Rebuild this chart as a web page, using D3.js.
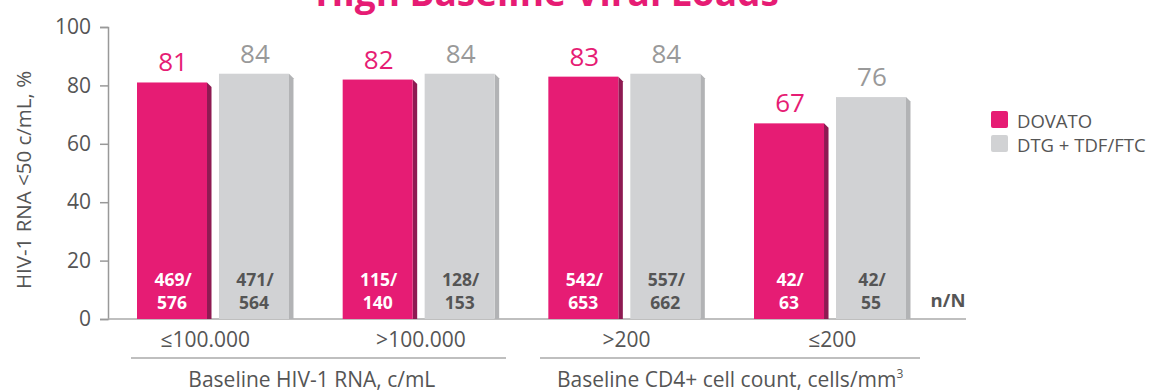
<!DOCTYPE html>
<html><head><meta charset="utf-8">
<script src="https://cdn.jsdelivr.net/npm/d3@7"></script>
<style>
body{margin:0;background:#fff;}
svg{display:block;font-family:"Open Sans",sans-serif;}
</style></head>
<body><svg id="c" width="1149" height="392"></svg>
<script>
const categories = ["≤100.000", ">100.000", ">200", "≤200"];
const series = ["DOVATO", "DTG + TDF/FTC"];
const dovato = [81, 82, 83, 67];
const dtg = [84, 84, 84, 76];
const dovatoN = [["469/","576"],["115/","140"],["542/","653"],["42/","63"]];
const dtgN = [["471/","564"],["128/","153"],["557/","662"],["42/","55"]];
const yTicks = [0, 20, 40, 60, 80, 100];
const groupTitles = ["Baseline HIV-1 RNA, c/mL", "Baseline CD4+ cell count, cells/mm"];
const groupMembers = [[0,1],[2,3]];

const pink = "#E61C74", pinkSide = "#8E1A52";
const grey = "#D1D2D4", greySide = "#B2B3B5";
const textGrey = "#555555";

const svg = d3.select("#c");
const y = d3.scaleLinear().domain([0,100]).range([319,27]);
const x = d3.scaleBand().domain(categories).range([137, 906]).paddingInner(0.261).paddingOuter(0);
const xs = d3.scaleBand().domain(series).range([0, x.bandwidth()]).paddingInner(0.146).paddingOuter(0);
const depth = 4.5;

// title (partially cropped, as in the reference)
svg.append("text").attr("x", 547).attr("y", 6).attr("text-anchor","middle")
  .attr("font-size", 37).attr("font-weight", 700).attr("fill", pink).text("High Baseline Viral Loads");

// y axis
const yAxis = svg.append("g").attr("transform","translate(108,0)")
  .call(d3.axisLeft(y).tickValues(yTicks).tickSize(8).tickPadding(9));
yAxis.select(".domain").attr("stroke","#999").attr("stroke-width",1.5);
yAxis.selectAll(".tick line").attr("stroke","#999").attr("stroke-width",1.5);
yAxis.selectAll(".tick text").attr("font-size",21).attr("fill",textGrey).attr("font-family","Open Sans");

// x axis baseline
svg.append("line").attr("x1",108).attr("x2",966).attr("y1",y(0)).attr("y2",y(0))
  .attr("stroke","#aaa").attr("stroke-width",1.5);

svg.append("text").attr("transform","translate(31,180) rotate(-90)").attr("text-anchor","middle")
  .attr("font-size",20.5).attr("fill",textGrey).text("HIV-1 RNA <50 c/mL, %");

const data = categories.map((c,i)=>({c, i, vals:[
  {s:series[0], v:dovato[i], n:dovatoN[i], fill:pink, side:pinkSide, lab:pink, nCol:"#fff"},
  {s:series[1], v:dtg[i], n:dtgN[i], fill:grey, side:greySide, lab:"#999", nCol:textGrey}]}));

const g = svg.selectAll("g.grp").data(data).join("g").attr("class","grp")
  .attr("transform", d=>`translate(${x(d.c)},0)`);
const b = g.selectAll("g.bar").data(d=>d.vals).join("g").attr("class","bar");
b.append("path").attr("fill", d=>d.side).attr("d", d=>{
  const x1 = xs(d.s)+xs.bandwidth(), t = y(d.v), b0 = y(0);
  return `M${x1},${t} L${x1+depth},${t+depth} L${x1+depth},${b0} L${x1},${b0} Z`;
});
b.append("rect").attr("x", d=>xs(d.s)).attr("width", xs.bandwidth())
  .attr("y", d=>y(d.v)).attr("height", d=>y(0)-y(d.v)).attr("fill", d=>d.fill);
b.append("text").attr("x", d=>xs(d.s)+xs.bandwidth()/2+1).attr("y", d=>y(d.v)-11)
  .attr("text-anchor","middle").attr("font-size",26).attr("fill", d=>d.lab).text(d=>d.v);
b.append("text").attr("x", d=>xs(d.s)+xs.bandwidth()/2+1).attr("y", 286)
  .attr("text-anchor","middle").attr("font-size",17.5).attr("font-weight",700).attr("fill", d=>d.nCol).text(d=>d.n[0]);
b.append("text").attr("x", d=>xs(d.s)+xs.bandwidth()/2).attr("y", 309)
  .attr("text-anchor","middle").attr("font-size",17.5).attr("font-weight",700).attr("fill", d=>d.nCol).text(d=>d.n[1]);

svg.append("text").attr("x",948).attr("y",307).attr("text-anchor","middle").attr("font-size",18.5)
  .attr("font-weight",700).attr("fill",textGrey).text("n/N");

// category labels
g.append("text").attr("x", d=>x.bandwidth()/2 + depth/2 + (d.i===0 ? -10 : 0)).attr("y", 347).attr("text-anchor","middle")
  .attr("font-size",21).attr("fill",textGrey).text(d=>d.c);

// group separators and titles
const sepX = [[131,506],[540,920]];
groupTitles.forEach((t,i)=>{
  svg.append("line").attr("x1",sepX[i][0]).attr("x2",sepX[i][1]).attr("y1",358).attr("y2",358)
    .attr("stroke","#aaa").attr("stroke-width",1.5);
  const cx = (x(categories[groupMembers[i][0]]) + x(categories[groupMembers[i][1]]) + x.bandwidth())/2;
  const tt = svg.append("text").attr("x", cx + (i===0? -4 : 3)).attr("y", 387).attr("text-anchor","middle")
    .attr("font-size",21).attr("fill",textGrey).text(t);
  if(i===1) tt.append("tspan").attr("font-size",12).attr("dy",-9).text("3");
});

// legend
const lg = svg.append("g").attr("transform","translate(991,111)");
series.forEach((s,i)=>{
  lg.append("rect").attr("x",0).attr("y",i*24).attr("width",17).attr("height",17).attr("rx",2)
    .attr("fill", i===0?pink:grey);
  lg.append("text").attr("x",26).attr("y",i*24+17).attr("font-size",18.5).attr("fill",textGrey).text(s);
});
</script></body></html>
